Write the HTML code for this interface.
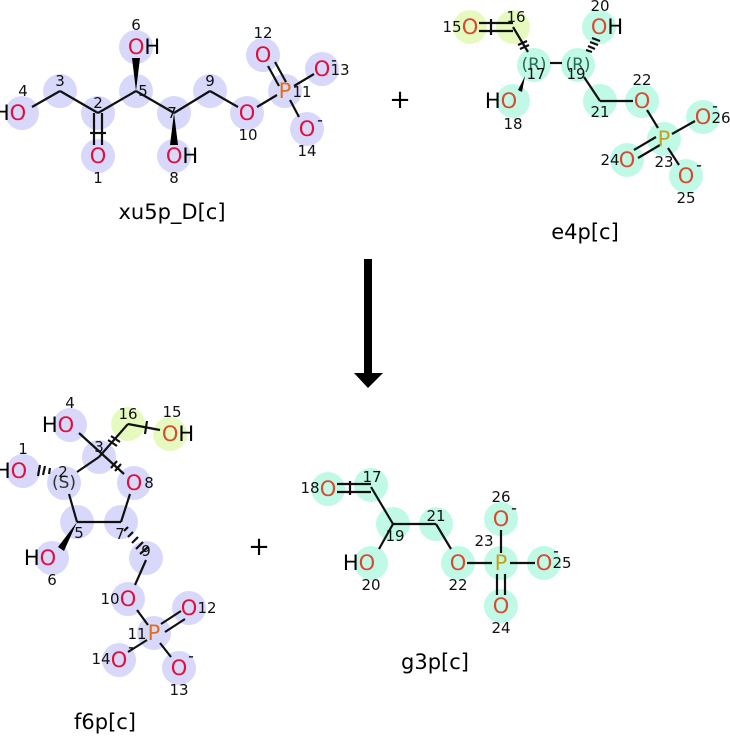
<!DOCTYPE html>
<html><head><meta charset="utf-8"><style>
html,body{margin:0;padding:0;background:#fff}
svg{display:block}
text{font-family:"DejaVu Sans","Liberation Sans",sans-serif}
.e{font-size:21px;text-anchor:middle;dominant-baseline:central}
.n{font-size:15px;fill:#111;text-anchor:middle;dominant-baseline:central}
.t{font-size:21px;fill:#000;text-anchor:middle}
.b circle{fill:#d8d8fa}
.c circle{fill:#c0fae6}
.y{fill:#e6fac0}
line{stroke:#111;stroke-width:2.2}
.Or{fill:#e0103c}
.Oc{fill:#d84a30}
.P{fill:#e07020}
.Pc{fill:#c8a020}
</style></head><body>
<svg width="730" height="736" viewBox="0 0 730 736" xmlns="http://www.w3.org/2000/svg">
<!-- xu5p -->
<g class="b">
<circle cx="22" cy="113" r="17"/><circle cx="60" cy="91" r="17"/><circle cx="98" cy="113" r="17"/><circle cx="98" cy="156" r="17"/>
<circle cx="136" cy="91" r="17"/><circle cx="136" cy="47" r="17"/><circle cx="174" cy="113" r="17"/><circle cx="174" cy="156" r="17"/>
<circle cx="210" cy="91" r="17"/><circle cx="247" cy="113" r="17"/><circle cx="285" cy="91" r="17"/><circle cx="263" cy="55" r="17"/>
<circle cx="322" cy="69" r="17"/><circle cx="307" cy="129" r="17"/>
</g>
<line x1="32" y1="107" x2="60" y2="91"/><line x1="60" y1="91" x2="98" y2="113"/><line x1="98" y1="113" x2="136" y2="91"/>
<line x1="94" y1="113" x2="94" y2="145"/><line x1="102" y1="113" x2="102" y2="145"/><line x1="90" y1="133" x2="106" y2="133"/>
<line x1="136" y1="91" x2="174" y2="113"/><line x1="174" y1="113" x2="210" y2="91"/><line x1="210" y1="91" x2="238" y2="107"/>
<line x1="257" y1="107" x2="277" y2="95"/><line x1="294" y1="86" x2="314" y2="74"/><line x1="290" y1="100" x2="299" y2="117"/>
<line x1="268" y1="66" x2="279" y2="86"/><line x1="275" y1="62" x2="286" y2="82"/>
<polygon points="136,91 132,58 140,58" fill="#000"/><polygon points="174,113 170,145 178,145" fill="#000"/>
<text class="e" x="22" y="113"><tspan fill="#000" dx="-12">H</tspan><tspan class="Or">O</tspan></text>
<text class="e Or" x="98" y="156">O</text>
<text class="e" x="144" y="47"><tspan class="Or">O</tspan><tspan fill="#000">H</tspan></text>
<text class="e" x="182" y="156"><tspan class="Or">O</tspan><tspan fill="#000">H</tspan></text>
<text class="e Or" x="247" y="113">O</text><text class="e P" x="285" y="91">P</text>
<text class="e Or" x="263" y="55">O</text><text class="e Or" x="322" y="69">O</text><text class="e Or" x="307" y="129">O</text>
<text class="e" x="334" y="60" style="font-size:16px">-</text><text class="e" x="320" y="120" style="font-size:16px">-</text>
<text class="n" x="23" y="91">4</text><text class="n" x="60" y="81">3</text><text class="n" x="98" y="103">2</text><text class="n" x="98" y="178">1</text>
<text class="n" x="143" y="91">5</text><text class="n" x="136" y="25">6</text><text class="n" x="172" y="113">7</text><text class="n" x="174" y="178">8</text>
<text class="n" x="210" y="81">9</text><text class="n" x="248" y="135">10</text><text class="n" x="302" y="92">11</text>
<text class="n" x="263" y="33">12</text><text class="n" x="340" y="70">13</text><text class="n" x="307" y="151">14</text>
<text class="t" x="172" y="219">xu5p_D[c]</text>
<!-- plus -->
<text x="400" y="108" style="font-size:26px;text-anchor:middle">+</text>
<!-- e4p -->
<circle class="y" cx="470" cy="27" r="17"/><circle class="y" cx="513" cy="27" r="17"/>
<g class="c">
<circle cx="534" cy="65" r="17"/><circle cx="578" cy="65" r="17"/><circle cx="599" cy="27" r="17"/><circle cx="513" cy="101" r="17"/>
<circle cx="600" cy="101" r="17"/><circle cx="642" cy="101" r="17"/><circle cx="664" cy="139" r="17"/><circle cx="703" cy="117" r="17"/>
<circle cx="627" cy="160" r="17"/><circle cx="686" cy="176" r="17"/>
</g>
<line x1="479" y1="23" x2="513" y2="23"/><line x1="479" y1="31" x2="513" y2="31"/><line x1="491" y1="19" x2="491" y2="35"/>
<line x1="513" y1="27" x2="528" y2="52"/><line x1="518" y1="45" x2="527" y2="41"/><line x1="520" y1="49" x2="529" y2="45"/>
<line x1="550" y1="63" x2="562" y2="63"/><line x1="584" y1="77" x2="600" y2="101"/><line x1="600" y1="101" x2="633" y2="101"/>
<line x1="647" y1="110" x2="658" y2="128"/><line x1="672" y1="134" x2="695" y2="121"/><line x1="668" y1="148" x2="679" y2="165"/>
<line x1="634" y1="150" x2="656" y2="137"/><line x1="638" y1="158" x2="660" y2="145"/>
<polygon points="525,76 518,90 522,92" fill="#000"/>
<g stroke="#111" stroke-width="1.5"><line x1="586" y1="50" x2="592" y2="52"/><line x1="588" y1="46" x2="595" y2="49"/><line x1="590" y1="42" x2="598" y2="45"/><line x1="592" y1="38" x2="600" y2="41"/></g>
<text class="e Oc" x="470" y="27">O</text>
<text class="e" x="534" y="65" fill="#2a6a5a" style="font-size:17px">(R)</text>
<text class="e" x="578" y="65" fill="#2a6a5a" style="font-size:17px">(R)</text>
<text class="e" x="607" y="27"><tspan class="Oc">O</tspan><tspan fill="#000">H</tspan></text>
<text class="e" x="513" y="101"><tspan fill="#000" dx="-12">H</tspan><tspan class="Oc">O</tspan></text>
<text class="e Oc" x="642" y="101">O</text><text class="e Pc" x="664" y="139">P</text>
<text class="e Oc" x="703" y="117">O</text><text class="e Oc" x="627" y="160">O</text><text class="e Oc" x="686" y="176">O</text>
<text class="e" x="715" y="106" style="font-size:16px">-</text><text class="e" x="699" y="165" style="font-size:16px">-</text>
<text class="n" x="452" y="27">15</text><text class="n" x="516" y="17">16</text><text class="n" x="536" y="74">17</text><text class="n" x="576" y="74">19</text>
<text class="n" x="600" y="6">20</text><text class="n" x="513" y="124">18</text><text class="n" x="600" y="112">21</text><text class="n" x="642" y="80">22</text>
<text class="n" x="664" y="162">23</text><text class="n" x="721" y="118">26</text><text class="n" x="610" y="160">24</text><text class="n" x="686" y="198">25</text>
<text class="t" x="585" y="239">e4p[c]</text>
<!-- arrow -->
<rect x="364" y="259" width="8" height="115" fill="#000"/>
<polygon points="354,373 383,373 368,388" fill="#000"/>
<!-- f6p -->
<circle class="y" cx="128" cy="424" r="17"/><circle class="y" cx="170" cy="434" r="17"/>
<g class="b">
<circle cx="70" cy="425" r="17"/><circle cx="99" cy="457" r="17"/><circle cx="23" cy="471" r="17"/><circle cx="64" cy="483" r="17"/>
<circle cx="134" cy="483" r="17"/><circle cx="77" cy="522" r="17"/><circle cx="121" cy="522" r="17"/><circle cx="52" cy="558" r="17"/>
<circle cx="146" cy="558" r="17"/><circle cx="128" cy="599" r="17"/><circle cx="154" cy="633" r="17"/><circle cx="189" cy="608" r="17"/>
<circle cx="119" cy="660" r="17"/><circle cx="179" cy="668" r="17"/>
</g>
<line x1="79" y1="433" x2="124" y2="474"/><line x1="99" y1="457" x2="128" y2="424"/><line x1="128" y1="424" x2="160" y2="430"/>
<line x1="108" y1="440" x2="117" y2="446"/><line x1="111" y1="436" x2="120" y2="442"/><line x1="147" y1="421" x2="145" y2="434"/>
<line x1="111" y1="468" x2="117" y2="461"/><line x1="115" y1="471" x2="121" y2="464"/>
<line x1="99" y1="457" x2="77" y2="472"/><line x1="69" y1="494" x2="77" y2="522"/><line x1="77" y1="522" x2="121" y2="522"/>
<line x1="121" y1="522" x2="130" y2="494"/><line x1="146" y1="560" x2="135" y2="585"/><line x1="137" y1="610" x2="148" y2="625"/>
<line x1="147" y1="640" x2="128" y2="652"/><line x1="160" y1="643" x2="171" y2="657"/>
<line x1="161" y1="624" x2="181" y2="611"/><line x1="165" y1="632" x2="185" y2="619"/>
<polygon points="77,522 58,547 64,551" fill="#000"/>
<g stroke="#111" stroke-width="1.5"><line x1="50" y1="468" x2="49" y2="474"/><line x1="45" y1="466" x2="43" y2="475"/><line x1="40" y1="465" x2="38" y2="476"/>
<line x1="128" y1="527" x2="124" y2="531"/><line x1="133" y1="532" x2="128" y2="537"/><line x1="138" y1="537" x2="132" y2="543"/><line x1="143" y1="542" x2="136" y2="549"/><line x1="148" y1="547" x2="140" y2="554"/></g>
<text class="e" x="70" y="425"><tspan fill="#000" dx="-12">H</tspan><tspan class="Or">O</tspan></text>
<text class="e" x="178" y="434"><tspan class="Oc">O</tspan><tspan fill="#000">H</tspan></text>
<text class="e" x="23" y="471"><tspan fill="#000" dx="-12">H</tspan><tspan class="Or">O</tspan></text>
<text class="e" x="64" y="483" fill="#333" style="font-size:17px">(S)</text>
<text class="e Or" x="134" y="483">O</text>
<text class="e" x="52" y="558"><tspan fill="#000" dx="-12">H</tspan><tspan class="Or">O</tspan></text>
<text class="e Or" x="128" y="599">O</text><text class="e P" x="154" y="633">P</text>
<text class="e Or" x="189" y="608">O</text><text class="e Or" x="119" y="660">O</text><text class="e Or" x="179" y="668">O</text>
<text class="e" x="131" y="647" style="font-size:16px">-</text><text class="e" x="191" y="656" style="font-size:16px">-</text>
<text class="n" x="70" y="403">4</text><text class="n" x="128" y="414">16</text><text class="n" x="172" y="412">15</text><text class="n" x="99" y="447">3</text>
<text class="n" x="23" y="449">1</text><text class="n" x="63" y="472">2</text><text class="n" x="149" y="483">8</text><text class="n" x="79" y="533">5</text>
<text class="n" x="120" y="534">7</text><text class="n" x="52" y="580">6</text><text class="n" x="146" y="551">9</text>
<text class="n" x="110" y="599">10</text><text class="n" x="137" y="634">11</text><text class="n" x="207" y="608">12</text>
<text class="n" x="101" y="659">14</text><text class="n" x="179" y="690">13</text>
<text class="t" x="105" y="729">f6p[c]</text>
<!-- plus -->
<text x="259" y="555" style="font-size:26px;text-anchor:middle">+</text>
<!-- g3p -->
<g class="c">
<circle cx="328" cy="489" r="17"/><circle cx="371" cy="485" r="17"/><circle cx="393" cy="524" r="17"/><circle cx="436" cy="524" r="17"/>
<circle cx="371" cy="563" r="17"/><circle cx="458" cy="563" r="17"/><circle cx="501" cy="563" r="17"/><circle cx="501" cy="519" r="17"/>
<circle cx="544" cy="563" r="17"/><circle cx="501" cy="606" r="17"/>
</g>
<line x1="337" y1="484" x2="371" y2="484"/><line x1="337" y1="492" x2="371" y2="492"/><line x1="350" y1="481" x2="350" y2="495"/>
<line x1="371" y1="487" x2="393" y2="524"/><line x1="393" y1="524" x2="436" y2="524"/><line x1="393" y1="524" x2="379" y2="549"/>
<line x1="436" y1="524" x2="451" y2="549"/><line x1="467" y1="563" x2="492" y2="563"/><line x1="510" y1="563" x2="535" y2="563"/>
<line x1="501" y1="530" x2="501" y2="553"/><line x1="497" y1="574" x2="497" y2="595"/><line x1="505" y1="574" x2="505" y2="595"/>
<text class="e Oc" x="328" y="489">O</text>
<text class="e" x="371" y="563"><tspan fill="#000" dx="-12">H</tspan><tspan class="Oc">O</tspan></text>
<text class="e Oc" x="458" y="563">O</text><text class="e Pc" x="501" y="563">P</text>
<text class="e Oc" x="501" y="519">O</text><text class="e Oc" x="544" y="563">O</text><text class="e Oc" x="501" y="606">O</text>
<text class="e" x="514" y="508" style="font-size:16px">-</text><text class="e" x="556" y="551" style="font-size:16px">-</text>
<text class="n" x="310" y="488">18</text><text class="n" x="372" y="477">17</text><text class="n" x="395" y="536">19</text><text class="n" x="436" y="516">21</text>
<text class="n" x="371" y="585">20</text><text class="n" x="458" y="585">22</text><text class="n" x="484" y="541">23</text><text class="n" x="501" y="497">26</text>
<text class="n" x="562" y="563">25</text><text class="n" x="501" y="628">24</text>
<text class="t" x="435" y="669">g3p[c]</text>
</svg>
</body></html>
